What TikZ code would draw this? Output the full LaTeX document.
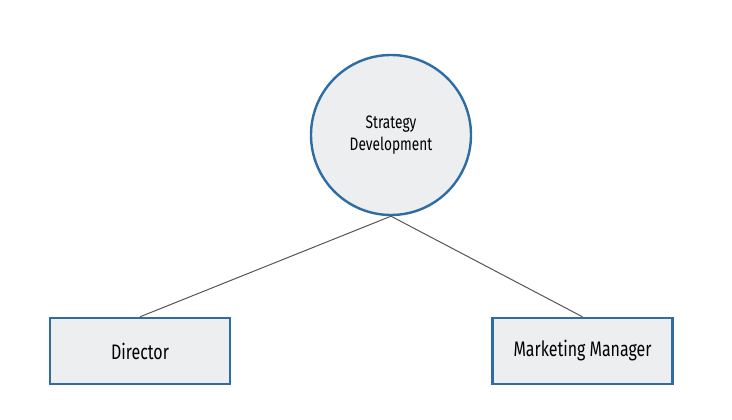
\documentclass[tikz,border=0pt]{standalone}
\usepackage{fontspec}
\setmainfont{Fira Sans}[FakeStretch=0.76]
\usepackage{xcolor}
\definecolor{roleblue}{HTML}{2E6DA4}
\definecolor{rolefill}{HTML}{EDEEF0}
\definecolor{linkgray}{HTML}{555555}

\begin{document}
\begin{tikzpicture}[
  x=1pt, y=-1pt,
  goal/.style={circle,draw=roleblue,fill=rolefill,line width=2.4pt,minimum size=160pt,inner sep=0pt,align=center,font=\fontsize{18}{22}\selectfont},
  role/.style={rectangle,draw=roleblue,fill=rolefill,line width=2.4pt,minimum width=180pt,minimum height=66pt,inner sep=0pt,font=\fontsize{21}{24}\selectfont},
  link/.style={draw=linkgray,line width=1pt}
]
  \useasboundingbox (0,0) rectangle (732,420);
  \node[goal] (strat) at (391,135) {Strategy\\Development};
  \node[role] (dir) at (140,351) {Director};
  \node[role] (mkt) at (582.5,351) {Marketing Manager};
  \draw[link] (strat.south) -- (dir.north);
  \draw[link] (strat.south) -- (mkt.north);
\end{tikzpicture}
\end{document}
